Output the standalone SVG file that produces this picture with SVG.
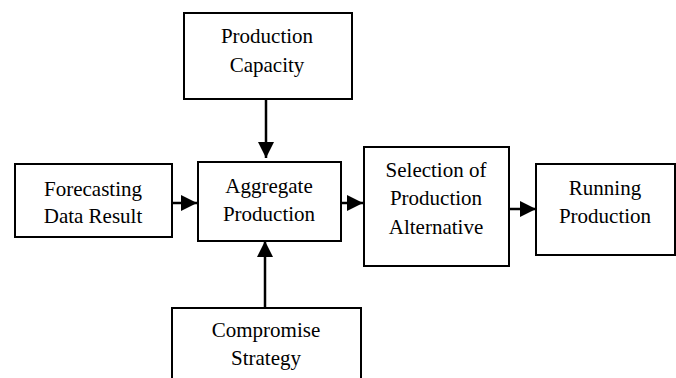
<svg xmlns="http://www.w3.org/2000/svg" width="676" height="378" viewBox="0 0 676 378">
<style>
.box{fill:#fff;stroke:#000;stroke-width:2}
.t{font-family:"Liberation Serif","Times New Roman",serif;font-size:21px;fill:#000;text-anchor:middle}
.c{stroke:#000;stroke-width:2.5;fill:none;marker-end:url(#ah)}
</style>
<defs>
<marker id="ah" markerUnits="userSpaceOnUse" markerWidth="17" markerHeight="17" refX="16" refY="8" orient="auto">
<path d="M0,0 L16,8 L0,16 z" fill="#000"/>
</marker>
</defs>
<rect width="676" height="378" fill="#fff"/>
<g id="capacity">
<rect class="box" x="184" y="13" width="168" height="86"/>
<text class="t" x="267" y="43">Production</text>
<text class="t" x="267" y="72">Capacity</text>
</g>
<g id="forecasting">
<rect class="box" x="15" y="164" width="157" height="73"/>
<text class="t" x="93" y="196">Forecasting</text>
<text class="t" x="93" y="223">Data Result</text>
</g>
<g id="aggregate">
<rect class="box" x="198" y="162" width="143" height="79"/>
<text class="t" x="269" y="193">Aggregate</text>
<text class="t" x="269" y="221">Production</text>
</g>
<g id="selection">
<rect class="box" x="364" y="147" width="145" height="119"/>
<text class="t" x="436" y="177">Selection of</text>
<text class="t" x="436" y="205">Production</text>
<text class="t" x="436" y="234">Alternative</text>
</g>
<g id="running">
<rect class="box" x="536" y="164" width="139" height="91"/>
<text class="t" x="605" y="195">Running</text>
<text class="t" x="605" y="223">Production</text>
</g>
<g id="compromise">
<rect class="box" x="172" y="308" width="189" height="80"/>
<text class="t" x="266" y="337">Compromise</text>
<text class="t" x="266" y="365">Strategy</text>
</g>
<g id="connectors">
<line class="c" x1="266" y1="99" x2="266" y2="158"/>
<line class="c" x1="172" y1="203" x2="197" y2="203"/>
<line class="c" x1="341" y1="203" x2="363" y2="203"/>
<line class="c" x1="509" y1="209" x2="536" y2="209"/>
<line class="c" x1="265" y1="308" x2="265" y2="241"/>
</g>
</svg>
